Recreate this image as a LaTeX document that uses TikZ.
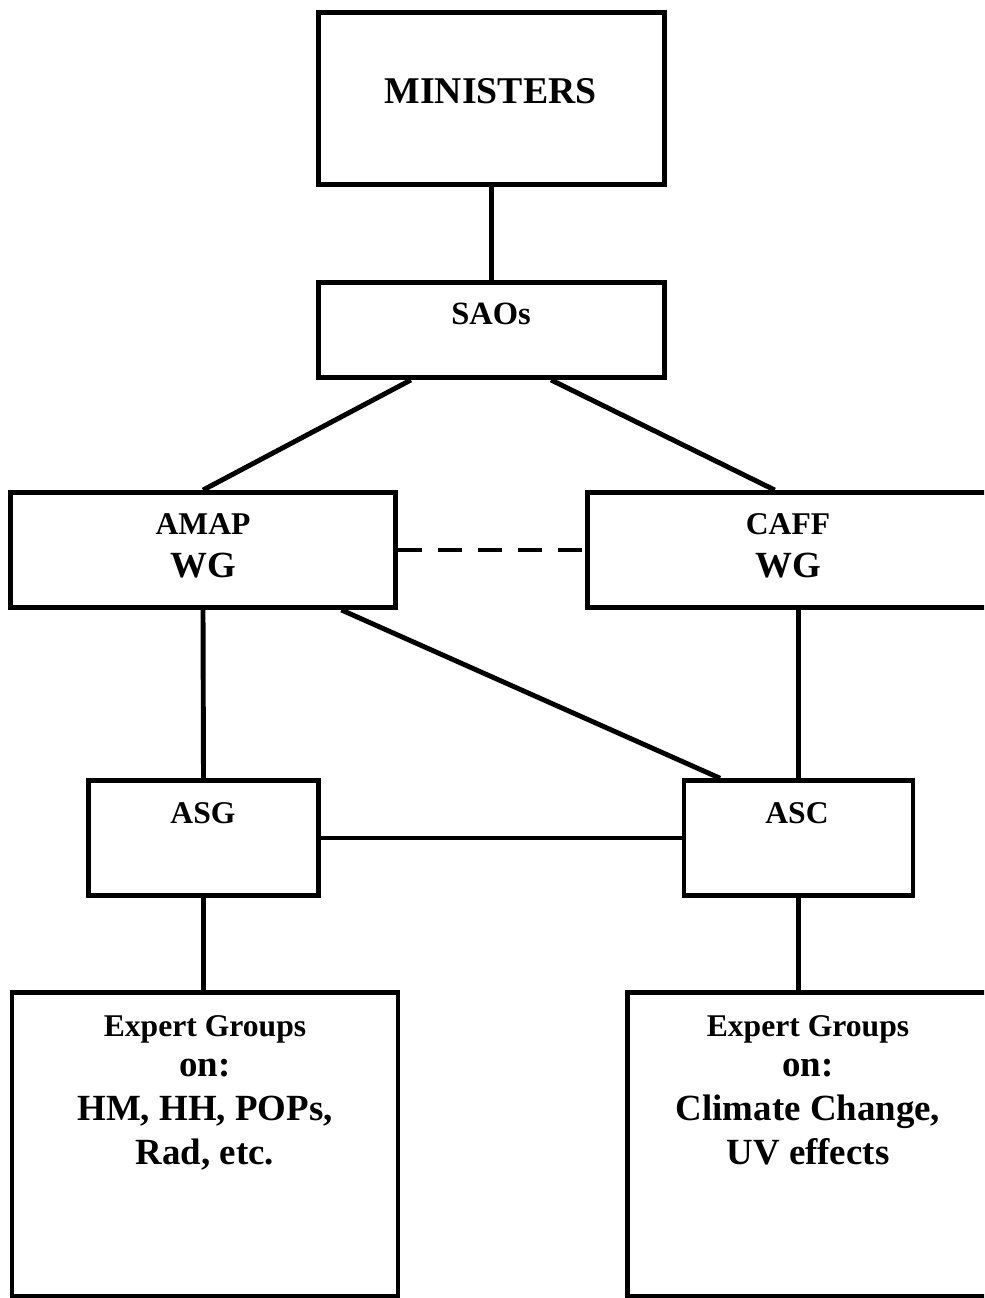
\documentclass[tikz,border=0pt]{standalone}
\usepackage{fontspec}
\setmainfont{Liberation Serif}
\usetikzlibrary{calc}
\usetikzlibrary{positioning}
\tikzset{
    box/.style={
           rectangle,
           draw=black, line width=2.8pt,
           inner sep=0pt,
           },
    lbl/.style={
           inner sep=0pt,
           align=center,
           anchor=base,
           },
    lnk/.style={
           line width=2.8pt,
           },
}

\begin{document}
\begin{tikzpicture}[x=0.02cm,y=-0.02cm]
\clip (0,0) rectangle (984,1298);
% boxes
\node[box, minimum width=6.91cm, minimum height=3.44cm] (min) at (491.5,98.5) {};
\node[box, minimum width=6.91cm, minimum height=1.9cm] (sao) at (491.5,330) {};
\node[box, minimum width=7.7cm, minimum height=2.3cm] (amap) at (203,550) {};
\node[box, minimum width=8.06cm, minimum height=2.3cm] (caff) at (789,550) {};
\node[box, minimum width=4.6cm, minimum height=2.29cm] (asg) at (203.5,838) {};
\node[box, minimum width=4.58cm, minimum height=2.29cm] (asc) at (798.5,838) {};
\node[box, minimum width=7.72cm, minimum height=6.08cm] (expl) at (205,1144) {};
\node[box, minimum width=7.22cm, minimum height=6.08cm] (expr) at (808,1144) {};
% texts (base = last line)
\node[lbl, font=\bfseries\fontsize{21.5}{26}\selectfont] (min-t) at (490.5,103) {MINISTERS};
\node[lbl, font=\bfseries\fontsize{18.5}{22}\selectfont] (sao-t) at (491,324) {SAOs};
\node[lbl, font=\bfseries\fontsize{18}{24.4}\selectfont] (amap-t) at (203,577) {AMAP\\{\fontsize{21}{24.4}\selectfont WG}};
\node[lbl, font=\bfseries\fontsize{18}{24.4}\selectfont] (caff-t) at (788,577) {CAFF\\{\fontsize{21}{24.4}\selectfont WG}};
\node[lbl, font=\bfseries\fontsize{18}{22}\selectfont] (asg-t) at (203,823) {ASG};
\node[lbl, font=\bfseries\fontsize{18}{22}\selectfont] (asc-t) at (797,823) {ASC};
\node[lbl, font=\bfseries\fontsize{21}{25}\selectfont] (expl-t) at (205,1164) {{\fontsize{18}{25}\selectfont Expert Groups}\\[-2.5pt] on:\\ HM, HH, POPs,\\ Rad, etc.};
\node[lbl, font=\bfseries\fontsize{21}{25}\selectfont] (expr-t) at (808,1164) {{\fontsize{18}{25}\selectfont Expert Groups}\\[-2.5pt] on:\\ Climate Change,\\ UV effects};
% links
\draw[lnk] (min) -- (sao);
\draw[lnk] ($(sao.south west)!0.27!(sao.south east)$) -- (amap.north);
\draw[lnk] ($(sao.south west)!0.67!(sao.south east)$) -- ($(caff.north west)!0.465!(caff.north east)$);
\draw[lnk, dash pattern=on 0.48cm off 0.32cm] (amap) -- (caff);
\draw[lnk] (amap.south) -- (asg.north);
\draw[lnk] ($(amap.south west)!0.855!(amap.south east)$) -- ($(asc.north west)!0.165!(asc.north east)$);
\draw[lnk] (caff.south -| asc.north) -- (asc.north);
\draw[lnk] (asg) -- (asc);
\draw[lnk] (asg.south) -- (asg.south |- expl.north);
\draw[lnk] (asc.south) -- (asc.south |- expr.north);
\end{tikzpicture}
\end{document}
